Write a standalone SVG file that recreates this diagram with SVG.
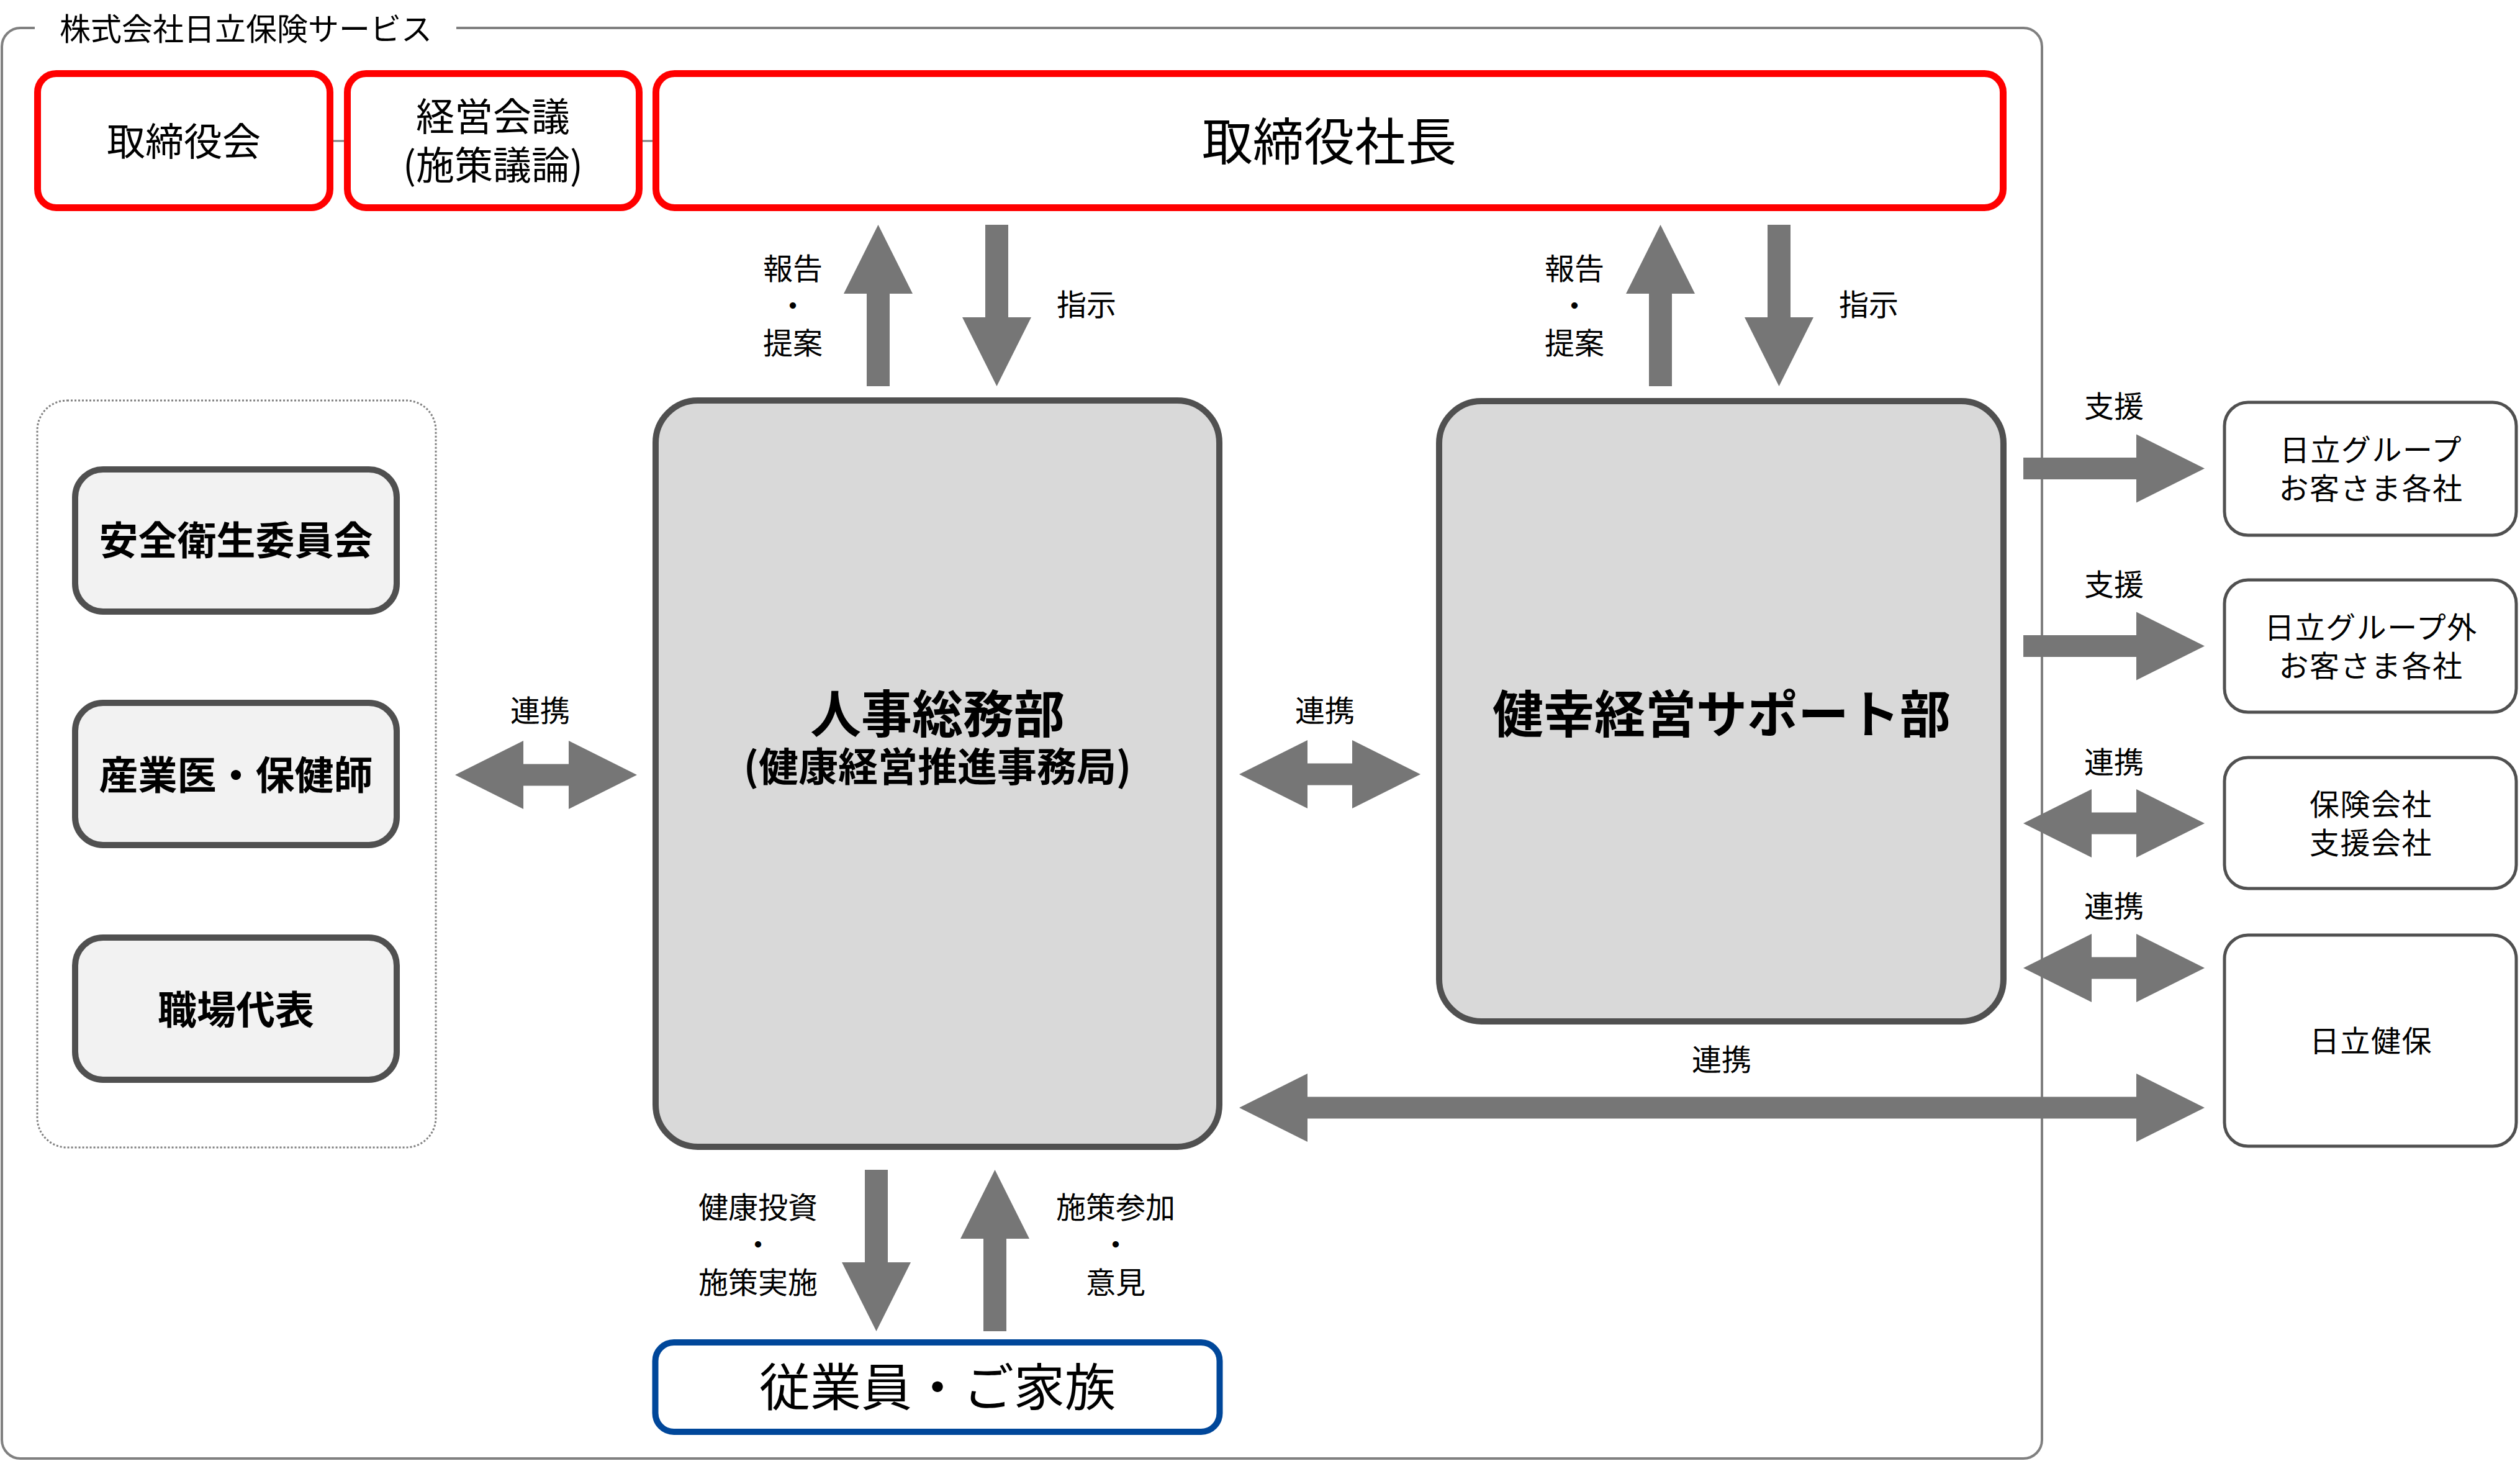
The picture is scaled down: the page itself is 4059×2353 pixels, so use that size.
<svg xmlns="http://www.w3.org/2000/svg" width="4059" height="2353" viewBox="0 0 4059 2353">
<style>
text{font-family:"Noto Sans CJK JP","Noto Sans",sans-serif;fill:#000;text-anchor:middle}
.lbl{font-size:48px}
.ext-t{font-size:48px;letter-spacing:1.5px}
.red{fill:#fff;stroke:#ff0000;stroke-width:11}
.dept{fill:#d9d9d9;stroke:#505050;stroke-width:10}
.cmt{fill:#f2f2f2;stroke:#505050;stroke-width:10}
.ext{fill:#fff;stroke:#505050;stroke-width:5}
.arr{fill:#767676}
.b{font-weight:bold}
</style>
<rect width="4059" height="2353" fill="#fff"/>
<g id="frame">
<path d="M56,45 H33 A30,30 0 0 0 3,75 V2319 A30,30 0 0 0 33,2349 H3259 A30,30 0 0 0 3289,2319 V75 A30,30 0 0 0 3259,45 H735" fill="none" stroke="#808080" stroke-width="4"/>
<text x="96" y="65" style="font-size:50px;text-anchor:start">株式会社日立保険サービス</text>
</g>
<g id="committees-group">
<rect x="60" y="645" width="642" height="1203" rx="48" fill="none" stroke="#808080" stroke-width="3" stroke-dasharray="3 3"/>
</g>
<g id="connectors">
<line x1="537" y1="227" x2="554" y2="227" stroke="#808080" stroke-width="3"/>
<line x1="1035" y1="227" x2="1051" y2="227" stroke="#808080" stroke-width="3"/>
<polygon class="arr" points="1414.5,362 1470,473 1433,473 1433,622 1396,622 1396,473 1359,473"/>
<polygon class="arr" points="1587,362 1624,362 1624,511 1661,511 1605.5,622 1550,511 1587,511"/>
<polygon class="arr" points="2674.5,362 2730,473 2693,473 2693,622 2656,622 2656,473 2619,473"/>
<polygon class="arr" points="2847,362 2884,362 2884,511 2921,511 2865.5,622 2810,511 2847,511"/>
<polygon class="arr" points="1393,1884 1430,1884 1430,2033 1467,2033 1411.5,2144 1356,2033 1393,2033"/>
<polygon class="arr" points="1602.5,1884 1658,1995 1621,1995 1621,2144 1584,2144 1584,1995 1547,1995"/>
<polygon class="arr" points="733,1248 843,1193 843,1230.5 916,1230.5 916,1193 1026,1248 916,1303 916,1265.5 843,1265.5 843,1303"/>
<polygon class="arr" points="1996,1247 2106,1192 2106,1229.5 2178,1229.5 2178,1192 2288,1247 2178,1302 2178,1264.5 2106,1264.5 2106,1302"/>
<polygon class="arr" points="3259,737 3441,737 3441,699.5 3551,754.5 3441,809.5 3441,772 3259,772"/>
<polygon class="arr" points="3259,1023 3441,1023 3441,985.5 3551,1040.5 3441,1095.5 3441,1058 3259,1058"/>
<polygon class="arr" points="3259,1326 3369,1271 3369,1308.5 3441,1308.5 3441,1271 3551,1326 3441,1381 3441,1343.5 3369,1343.5 3369,1381"/>
<polygon class="arr" points="3259,1559 3369,1504 3369,1541.5 3441,1541.5 3441,1504 3551,1559 3441,1614 3441,1576.5 3369,1576.5 3369,1614"/>
<polygon class="arr" points="1996,1784 2106,1729 2106,1766.5 3441,1766.5 3441,1729 3551,1784 3441,1839 3441,1801.5 2106,1801.5 2106,1839"/>
<text class="lbl"><tspan x="1277" y="450">報告</tspan><tspan x="1277" y="510">・</tspan><tspan x="1277" y="570">提案</tspan></text>
<text class="lbl" x="1750" y="508">指示</text>
<text class="lbl"><tspan x="2536" y="450">報告</tspan><tspan x="2536" y="510">・</tspan><tspan x="2536" y="570">提案</tspan></text>
<text class="lbl" x="3010" y="508">指示</text>
<text class="lbl"><tspan x="1221" y="1962">健康投資</tspan><tspan x="1221" y="2022">・</tspan><tspan x="1221" y="2083">施策実施</tspan></text>
<text class="lbl"><tspan x="1797" y="1962">施策参加</tspan><tspan x="1797" y="2022">・</tspan><tspan x="1797" y="2083">意見</tspan></text>
<text class="lbl" x="870" y="1162">連携</text>
<text class="lbl" x="2134" y="1162">連携</text>
<text class="lbl" x="2773" y="1724">連携</text>
<text class="lbl" x="3405" y="672">支援</text>
<text class="lbl" x="3405" y="959">支援</text>
<text class="lbl" x="3405" y="1245">連携</text>
<text class="lbl" x="3405" y="1477">連携</text>
</g>
<g id="board">
<rect class="red" x="60.5" y="118.5" width="471" height="216" rx="30"/>
<text x="296" y="251" style="font-size:62px">取締役会</text>
</g>
<g id="mgmt-meeting">
<rect class="red" x="559.5" y="118.5" width="470" height="216" rx="30"/>
<text style="font-size:62px"><tspan x="794" y="211">経営会議</tspan><tspan x="794" y="289">(施策議論)</tspan></text>
</g>
<g id="president">
<rect class="red" x="1056.5" y="118.5" width="2170" height="216" rx="30"/>
<text x="2141" y="258" style="font-size:82px">取締役社長</text>
</g>
<g id="safety-committee">
<rect class="cmt" x="121" y="756" width="518" height="229" rx="45"/>
<text class="b" x="380" y="893" style="font-size:63px">安全衛生委員会</text>
</g>
<g id="occupational-health">
<rect class="cmt" x="121" y="1132" width="518" height="229" rx="45"/>
<text class="b" x="380" y="1271" style="font-size:63px">産業医・保健師</text>
</g>
<g id="workplace-rep">
<rect class="cmt" x="121" y="1510" width="518" height="229" rx="45"/>
<text class="b" x="380" y="1649" style="font-size:63px">職場代表</text>
</g>
<g id="hr-dept">
<rect class="dept" x="1056" y="645" width="908" height="1202" rx="68"/>
<text class="b"><tspan x="1510" y="1180" style="font-size:82px">人事総務部</tspan><tspan x="1510" y="1258" style="font-size:64px">(健康経営推進事務局)</tspan></text>
</g>
<g id="kenko-dept">
<rect class="dept" x="2318" y="646" width="909" height="999" rx="68"/>
<text class="b" x="2773" y="1180" style="font-size:82px">健幸経営サポート部</text>
</g>
<g id="employees">
<rect x="1055.5" y="2162" width="909" height="144" rx="30" fill="#fff" stroke="#00479a" stroke-width="10"/>
<text x="1510" y="2264" style="font-size:82px">従業員・ご家族</text>
</g>
<g id="group-customers">
<rect class="ext" x="3583" y="648" width="470" height="214" rx="38"/>
<text class="ext-t"><tspan x="3819" y="742">日立グループ</tspan><tspan x="3819" y="804">お客さま各社</tspan></text>
</g>
<g id="external-customers">
<rect class="ext" x="3583" y="934" width="470" height="213" rx="38"/>
<text class="ext-t"><tspan x="3819" y="1028">日立グループ外</tspan><tspan x="3819" y="1090">お客さま各社</tspan></text>
</g>
<g id="insurers">
<rect class="ext" x="3583" y="1220" width="470" height="211" rx="38"/>
<text class="ext-t"><tspan x="3819" y="1313">保険会社</tspan><tspan x="3819" y="1375">支援会社</tspan></text>
</g>
<g id="hitachi-kenpo">
<rect class="ext" x="3583" y="1506" width="470" height="340" rx="38"/>
<text class="ext-t" x="3819" y="1694">日立健保</text>
</g>
</svg>
